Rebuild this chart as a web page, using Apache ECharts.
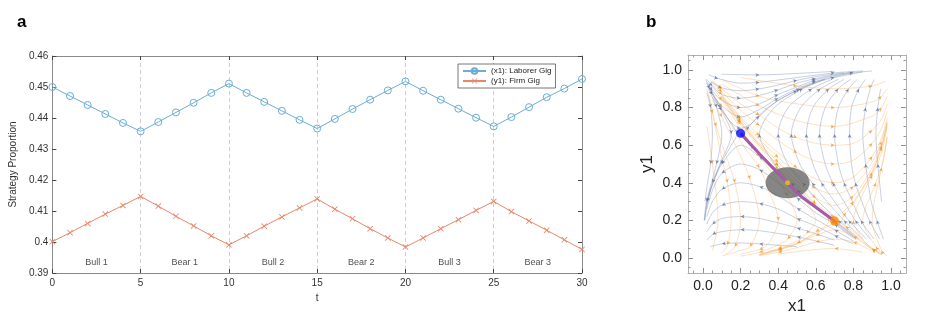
<!DOCTYPE html>
<html><head><meta charset="utf-8">
<script src="https://cdn.jsdelivr.net/npm/echarts@6/dist/echarts.min.js"></script>
<style>html,body{margin:0;padding:0;background:#fff}#c{width:926px;height:330px}</style>
</head><body><div id="c"></div>
<script>
// ---------- Panel a data ----------
const tVals = [0,1,2,3,4,5,6,7,8,9,10,11,12,13,14,15,16,17,18,19,20,21,22,23,24,25,26,27,28,29,30];
const laborerGig = [0.4500,0.4471,0.4442,0.4413,0.4384,0.4357,0.4387,0.4418,0.4449,0.4481,0.4511,0.4481,0.4452,0.4423,0.4394,0.4366,0.4397,0.4429,0.4459,0.4489,0.4518,0.4488,0.4459,0.4430,0.4401,0.4373,0.4403,0.4435,0.4467,0.4495,0.4526];
const firmGig = [0.4001,0.4030,0.4060,0.4090,0.4118,0.4147,0.4116,0.4083,0.4052,0.4020,0.3991,0.4020,0.4051,0.4081,0.4110,0.4139,0.4106,0.4075,0.4043,0.4013,0.3984,0.4013,0.4043,0.4072,0.4102,0.4131,0.4098,0.4068,0.4038,0.4007,0.3976];
const regimeNames = ['Bull 1','Bear 1','Bull 2','Bear 2','Bull 3','Bear 3'];
const regimeBounds = [0,5,10,15,20,25,30];
const seriesNames = ['(x1): Laborer Gig','(y1): Firm Gig'];

// ---------- Panel b data ----------
const phaseTicks = [0,0.2,0.4,0.6,0.8,1.0];
const phaseMinorTicks = [-0.05,0,0.05,0.1,0.15,0.2,0.25,0.3,0.35,0.4,0.45,0.5,0.55,0.6,0.65,0.7,0.75,0.8,0.85,0.9,0.95,1.0,1.05];
const blueSaddle = [0.2,0.663];
const orangeSaddle = [0.7,0.197];
const meanPoint = [0.45,0.40];
const saddlePath = [[0.2,0.663],[0.3,0.555],[0.383,0.469],[0.45,0.40],[0.5,0.345],[0.6,0.27],[0.7,0.197]];
const blueStreams = [
  [[0.05,0.855],[0.1,0.786],[0.15,0.72],[0.2,0.69],[0.25,0.71],[0.3,0.755],[0.4,0.84],[0.5,0.89],[0.6,0.935],[0.7,0.96],[0.85,0.99]],
  [[0.02,0.93],[0.05,0.87],[0.1,0.81],[0.2,0.75],[0.3,0.79],[0.4,0.85],[0.5,0.9],[0.6,0.94],[0.7,0.965],[0.8,0.985],[0.9,0.995]],
  [[0.03,0.93],[0.05,0.89],[0.1,0.838],[0.2,0.8],[0.3,0.82],[0.4,0.87],[0.5,0.91],[0.6,0.948],[0.7,0.97],[0.8,0.987]],
  [[0.02,0.95],[0.05,0.915],[0.1,0.87],[0.2,0.85],[0.3,0.865],[0.4,0.895],[0.5,0.93],[0.6,0.955],[0.7,0.975],[0.8,0.99]],
  [[0.04,0.94],[0.1,0.905],[0.2,0.89],[0.3,0.9],[0.4,0.92],[0.5,0.945],[0.6,0.965],[0.75,0.985]],
  [[0.03,0.975],[0.08,0.955],[0.2,0.93],[0.3,0.935],[0.5,0.96],[0.7,0.985],[0.85,0.995]],
  [[0.1,0.978],[0.3,0.974],[0.5,0.982],[0.7,0.993]],
  [[0.03,0.92],[0.094,0.8],[0.16,0.7],[0.18,0.66],[0.15,0.6],[0.094,0.5],[0.053,0.4],[0.024,0.3],[0.01,0.2]],
  [[0.015,0.95],[0.035,0.9],[0.088,0.8],[0.15,0.66],[0.09,0.5],[0.05,0.4],[0.022,0.3],[0.008,0.2]],
  [[0.028,0.9],[0.072,0.8],[0.1,0.66],[0.072,0.5],[0.045,0.4],[0.018,0.3],[0.006,0.2]],
  [[0.02,0.88],[0.04,0.8],[0.05,0.66],[0.04,0.5],[0.024,0.4],[0.01,0.3]],
  [[0.8,0.12],[0.7,0.2],[0.6,0.27],[0.5,0.36],[0.4,0.44],[0.3,0.54],[0.2,0.6],[0.1,0.5],[0.05,0.39],[0.02,0.29]],
  [[0.8,0.105],[0.7,0.18],[0.6,0.24],[0.5,0.32],[0.4,0.4],[0.3,0.47],[0.2,0.5],[0.1,0.45],[0.05,0.36],[0.02,0.26]],
  [[0.8,0.09],[0.7,0.15],[0.6,0.205],[0.5,0.265],[0.4,0.33],[0.3,0.38],[0.2,0.4],[0.1,0.365],[0.05,0.3],[0.02,0.22]],
  [[0.8,0.075],[0.7,0.12],[0.6,0.17],[0.5,0.21],[0.4,0.26],[0.3,0.29],[0.2,0.3],[0.1,0.28],[0.05,0.24],[0.02,0.18]],
  [[0.7,0.095],[0.5,0.16],[0.3,0.21],[0.2,0.22],[0.1,0.21],[0.05,0.18],[0.02,0.14]],
  [[0.7,0.067],[0.5,0.113],[0.3,0.145],[0.2,0.15],[0.1,0.14],[0.05,0.125],[0.02,0.095]],
  [[0.5,0.06],[0.3,0.075],[0.2,0.08],[0.1,0.075],[0.04,0.06]],
  [[0.815,0.1],[0.685,0.2],[0.56,0.3],[0.445,0.4],[0.343,0.5],[0.255,0.6],[0.22,0.66],[0.245,0.7],[0.344,0.8],[0.515,0.9],[0.645,0.95]],
  [[0.82,0.1],[0.695,0.2],[0.575,0.3],[0.47,0.4],[0.38,0.5],[0.3,0.66],[0.38,0.8],[0.53,0.9],[0.65,0.95]],
  [[0.83,0.1],[0.72,0.2],[0.615,0.3],[0.53,0.4],[0.45,0.5],[0.4,0.66],[0.453,0.8],[0.58,0.9],[0.685,0.95]],
  [[0.85,0.1],[0.75,0.2],[0.66,0.3],[0.58,0.4],[0.515,0.5],[0.47,0.66],[0.52,0.8],[0.625,0.9],[0.72,0.95]],
  [[0.87,0.1],[0.775,0.2],[0.7,0.3],[0.63,0.4],[0.585,0.5],[0.55,0.66],[0.585,0.8],[0.67,0.9],[0.75,0.95]],
  [[0.89,0.1],[0.81,0.2],[0.75,0.3],[0.69,0.4],[0.65,0.5],[0.62,0.66],[0.65,0.8],[0.72,0.9],[0.785,0.95]],
  [[0.91,0.1],[0.84,0.2],[0.795,0.3],[0.75,0.4],[0.72,0.5],[0.7,0.66],[0.72,0.8],[0.775,0.9],[0.82,0.95]],
  [[0.94,0.1],[0.885,0.2],[0.845,0.3],[0.81,0.4],[0.79,0.5],[0.78,0.66],[0.79,0.8],[0.83,0.9],[0.865,0.95]],
  [[0.96,0.1],[0.925,0.2],[0.895,0.3],[0.865,0.5],[0.85,0.66],[0.865,0.8],[0.89,0.9],[0.91,0.95]],
  [[0.95,0.3],[0.93,0.5],[0.92,0.66],[0.93,0.8],[0.945,0.9]]
];
const orangeStreams = [
  [[0.1,0.855],[0.2,0.72],[0.3,0.6],[0.4,0.49],[0.5,0.39],[0.6,0.29],[0.65,0.25],[0.7,0.22],[0.75,0.25],[0.8,0.3],[0.9,0.46],[0.95,0.59],[0.98,0.71]],
  [[0.1,0.86],[0.2,0.73],[0.3,0.61],[0.4,0.51],[0.5,0.41],[0.6,0.32],[0.7,0.28],[0.8,0.33],[0.9,0.48],[0.95,0.6],[0.98,0.72]],
  [[0.1,0.865],[0.2,0.74],[0.3,0.63],[0.4,0.535],[0.5,0.445],[0.6,0.37],[0.7,0.34],[0.8,0.38],[0.9,0.51],[0.95,0.62],[0.98,0.73]],
  [[0.05,0.93],[0.1,0.87],[0.2,0.75],[0.3,0.65],[0.4,0.56],[0.5,0.48],[0.6,0.42],[0.7,0.4],[0.8,0.43],[0.9,0.54],[0.95,0.64],[0.98,0.745]],
  [[0.05,0.94],[0.1,0.885],[0.2,0.785],[0.3,0.705],[0.4,0.625],[0.5,0.56],[0.6,0.515],[0.7,0.5],[0.8,0.52],[0.9,0.61],[0.95,0.69],[0.98,0.78]],
  [[0.05,0.945],[0.1,0.9],[0.2,0.82],[0.3,0.76],[0.4,0.69],[0.5,0.64],[0.6,0.61],[0.7,0.6],[0.8,0.61],[0.9,0.68],[0.95,0.74],[0.98,0.82]],
  [[0.1,0.925],[0.3,0.81],[0.5,0.73],[0.7,0.7],[0.9,0.755],[0.95,0.8],[0.98,0.86]],
  [[0.1,0.95],[0.3,0.86],[0.5,0.82],[0.7,0.8],[0.9,0.83],[0.95,0.86],[0.98,0.9]],
  [[0.2,0.96],[0.5,0.915],[0.7,0.9],[0.9,0.915],[0.97,0.94]],
  [[0.1,0.855],[0.2,0.72],[0.3,0.6],[0.4,0.49],[0.5,0.385],[0.6,0.28],[0.65,0.225],[0.67,0.2],[0.65,0.17],[0.6,0.14],[0.5,0.075],[0.4,0.045],[0.3,0.017]],
  [[0.1,0.85],[0.2,0.71],[0.3,0.59],[0.4,0.47],[0.5,0.35],[0.55,0.3],[0.6,0.2],[0.55,0.13],[0.5,0.09],[0.4,0.05],[0.3,0.02]],
  [[0.05,0.91],[0.1,0.84],[0.2,0.69],[0.3,0.54],[0.4,0.41],[0.45,0.33],[0.5,0.2],[0.45,0.1],[0.4,0.07],[0.3,0.03],[0.2,0.01]],
  [[0.05,0.875],[0.1,0.8],[0.2,0.62],[0.3,0.48],[0.35,0.36],[0.4,0.2],[0.35,0.08],[0.3,0.045],[0.2,0.02]],
  [[0.05,0.84],[0.1,0.75],[0.2,0.54],[0.25,0.42],[0.3,0.2],[0.25,0.06],[0.2,0.04],[0.1,0.01]],
  [[0.03,0.87],[0.07,0.7],[0.12,0.55],[0.17,0.4],[0.2,0.2],[0.17,0.06],[0.12,0.02]],
  [[0.02,0.9],[0.05,0.77],[0.1,0.53],[0.13,0.4],[0.15,0.2],[0.13,0.07],[0.1,0.025]],
  [[0.02,0.7],[0.05,0.5],[0.08,0.2],[0.05,0.04]],
  [[0.95,0.02],[0.9,0.05],[0.8,0.14],[0.76,0.17],[0.74,0.2],[0.76,0.24],[0.8,0.29],[0.9,0.455],[0.95,0.59],[0.98,0.715]],
  [[0.95,0.02],[0.9,0.05],[0.85,0.1],[0.8,0.2],[0.85,0.34],[0.9,0.44],[0.95,0.56],[0.98,0.7]],
  [[0.96,0.02],[0.92,0.06],[0.85,0.2],[0.92,0.4],[0.96,0.52],[0.98,0.65]],
  [[0.98,0.01],[0.95,0.04],[0.9,0.2],[0.95,0.48],[0.98,0.64]],
  [[0.95,0.02],[0.9,0.045],[0.8,0.125],[0.7,0.18],[0.6,0.13],[0.5,0.08],[0.4,0.045],[0.3,0.017]],
  [[0.9,0.045],[0.8,0.115],[0.7,0.15],[0.6,0.12],[0.5,0.075],[0.4,0.04],[0.3,0.015]],
  [[0.9,0.035],[0.8,0.085],[0.7,0.1],[0.6,0.085],[0.5,0.055],[0.4,0.03],[0.3,0.012]],
  [[0.85,0.03],[0.7,0.05],[0.55,0.04],[0.4,0.02]]
];

// ---------- styles ----------
const FONT = 'Liberation Sans, Arial, sans-serif';
const BLUE = '#6aaed6', ORANGE = '#e8876b';
const frameA = '#8a8a8a', frameB = '#b0b0b0';
const crossPath = 'path://M0,1L1,0L5,4L9,0L10,1L6,5L10,9L9,10L5,6L1,10L0,9L4,5Z';

function streamSeries(streams, lineColor, arrowColor) {
  const out = [];
  const arrows = [];
  streams.forEach(function (s) {
    out.push({type:'line', xAxisIndex:2, yAxisIndex:2, data:s, smooth:0.3, symbol:'none',
      lineStyle:{color:lineColor, width:0.7}, silent:true, z:2, animation:false});
    for (let i = 1; i < s.length - 1; i += 2) {
      const dx = s[i+1][0] - s[i-1][0], dy = s[i+1][1] - s[i-1][1];
      const ang = Math.atan2(dy, dx) * 180 / Math.PI;
      arrows.push({value:s[i], symbolRotate: ang - 90});
    }
  });
  out.push({type:'scatter', xAxisIndex:2, yAxisIndex:2, data:arrows, symbol:'arrow', symbolSize:[3,4],
    itemStyle:{color:arrowColor}, silent:true, z:3, animation:false});
  return out;
}

function axisBase(extra) {
  const a = Object.assign({type:'value', scale:false, splitLine:{show:false}}, extra);
  a.axisLine = Object.assign({onZero:false}, a.axisLine || {});
  return a;
}

const xAxes = [
  axisBase({gridIndex:0, position:'bottom', min:0, max:30, interval:5,
    name:'t', nameLocation:'middle', nameGap:17, nameTextStyle:{fontSize:10, color:'#333', fontFamily:FONT},
    axisLine:{lineStyle:{color:frameA, width:1}}, axisTick:{inside:true, length:4, lineStyle:{color:'#444'}},
    axisLabel:{fontSize:10, color:'#333', margin:5, fontFamily:FONT},
    splitLine:{show:true, lineStyle:{type:[4,3], color:'#cfcfcf', width:1}}}),
  axisBase({gridIndex:0, position:'top', min:0, max:30, interval:5,
    axisLine:{lineStyle:{color:frameA, width:1}}, axisTick:{inside:true, length:4, lineStyle:{color:'#444'}},
    axisLabel:{show:false}}),
  axisBase({gridIndex:1, position:'bottom', min:-0.08, max:1.08,
    name:'x1', nameLocation:'middle', nameGap:25, nameTextStyle:{fontSize:17, color:'#222', fontFamily:FONT},
    axisLine:{lineStyle:{color:frameB, width:1}},
    axisTick:{inside:true, length:5, customValues:phaseTicks, lineStyle:{color:'#888'}},
    axisLabel:{fontSize:14, color:'#222', margin:6, fontFamily:FONT, customValues:phaseTicks, formatter:function(v){return v.toFixed(1);}}}),
  axisBase({gridIndex:1, position:'bottom', min:-0.08, max:1.08,
    axisLine:{show:false}, axisTick:{inside:true, length:2.5, customValues:phaseMinorTicks, lineStyle:{color:'#999'}},
    axisLabel:{show:false}}),
  axisBase({gridIndex:1, position:'top', min:-0.08, max:1.08,
    axisLine:{lineStyle:{color:frameB, width:1}}, axisTick:{inside:true, length:5, customValues:phaseTicks, lineStyle:{color:'#888'}},
    axisLabel:{show:false}}),
  axisBase({gridIndex:1, position:'top', min:-0.08, max:1.08,
    axisLine:{show:false}, axisTick:{inside:true, length:2.5, customValues:phaseMinorTicks, lineStyle:{color:'#999'}},
    axisLabel:{show:false}})
];
const yAxes = [
  axisBase({gridIndex:0, position:'left', min:0.39, max:0.46, interval:0.01,
    name:'Strategy Proportion', nameLocation:'middle', nameGap:27, nameTextStyle:{fontSize:10, color:'#333', fontFamily:FONT},
    axisLine:{lineStyle:{color:frameA, width:1}}, axisTick:{inside:true, length:4, lineStyle:{color:'#444'}},
    axisLabel:{fontSize:10, color:'#333', margin:4, fontFamily:FONT}}),
  axisBase({gridIndex:0, position:'right', min:0.39, max:0.46, interval:0.01,
    axisLine:{lineStyle:{color:frameA, width:1}}, axisTick:{inside:true, length:4, lineStyle:{color:'#444'}},
    axisLabel:{show:false}}),
  axisBase({gridIndex:1, position:'left', min:-0.08, max:1.08,
    name:'y1', nameLocation:'middle', nameGap:32, nameTextStyle:{fontSize:17, color:'#222', fontFamily:FONT},
    axisLine:{lineStyle:{color:frameB, width:1}},
    axisTick:{inside:true, length:5, customValues:phaseTicks, lineStyle:{color:'#888'}},
    axisLabel:{fontSize:14, color:'#222', margin:6, fontFamily:FONT, customValues:phaseTicks, formatter:function(v){return v.toFixed(1);}}}),
  axisBase({gridIndex:1, position:'left', min:-0.08, max:1.08,
    axisLine:{show:false}, axisTick:{inside:true, length:2.5, customValues:phaseMinorTicks, lineStyle:{color:'#999'}},
    axisLabel:{show:false}}),
  axisBase({gridIndex:1, position:'right', min:-0.08, max:1.08,
    axisLine:{lineStyle:{color:frameB, width:1}}, axisTick:{inside:true, length:5, customValues:phaseTicks, lineStyle:{color:'#888'}},
    axisLabel:{show:false}}),
  axisBase({gridIndex:1, position:'right', min:-0.08, max:1.08,
    axisLine:{show:false}, axisTick:{inside:true, length:2.5, customValues:phaseMinorTicks, lineStyle:{color:'#999'}},
    axisLabel:{show:false}})
];

const regimeLabelData = regimeNames.map(function (n, i) {
  return {name:n, value:[(regimeBounds[i] + regimeBounds[i+1]) / 2, 0.3933]};
});

const series = [
  {name:seriesNames[0], type:'line', xAxisIndex:0, yAxisIndex:0, data:tVals.map(function(t,i){return [t, laborerGig[i]];}),
   symbol:'circle', symbolSize:7, lineStyle:{color:BLUE, width:1},
   itemStyle:{color:'rgba(255,255,255,0)', borderColor:BLUE, borderWidth:1}, animation:false, z:3},
  {name:seriesNames[1], type:'line', xAxisIndex:0, yAxisIndex:0, data:tVals.map(function(t,i){return [t, firmGig[i]];}),
   symbol:crossPath, symbolSize:6, lineStyle:{color:ORANGE, width:1},
   itemStyle:{color:ORANGE}, animation:false, z:3},
  {type:'scatter', xAxisIndex:0, yAxisIndex:0, data:regimeLabelData, symbolSize:0, silent:true, animation:false,
   label:{show:true, position:'inside', formatter:'{b}', fontSize:9, color:'#222', fontFamily:FONT}}
].concat(
  streamSeries(blueStreams, 'rgba(100,120,170,0.5)', 'rgba(75,95,150,0.85)'),
  streamSeries(orangeStreams, 'rgba(245,170,80,0.5)', 'rgba(238,140,25,0.85)'),
  [
    {type:'scatter', xAxisIndex:2, yAxisIndex:2, data:[meanPoint], symbol:'circle', symbolSize:[44,31],
     itemStyle:{color:'rgba(88,88,88,0.9)'}, silent:true, z:5, animation:false},
    {type:'line', xAxisIndex:2, yAxisIndex:2, data:saddlePath, smooth:0.4, symbol:'none',
     lineStyle:{color:'#a65aa8', width:3}, silent:true, z:6, animation:false},
    {type:'scatter', xAxisIndex:2, yAxisIndex:2, data:[meanPoint], symbol:'circle', symbolSize:5,
     itemStyle:{color:'#f5c400'}, silent:true, z:7, animation:false},
    {type:'scatter', xAxisIndex:2, yAxisIndex:2, data:[blueSaddle], symbol:'circle', symbolSize:9,
     itemStyle:{color:'#0a0aff'}, silent:true, z:7, animation:false},
    {type:'scatter', xAxisIndex:2, yAxisIndex:2, data:[orangeSaddle], symbol:'circle', symbolSize:9,
     itemStyle:{color:'#ff8a00'}, silent:true, z:7, animation:false}
  ]
);

const chart = echarts.init(document.getElementById('c'), null, {renderer:'canvas'});
chart.setOption({
  animation:false,
  backgroundColor:'#fff',
  textStyle:{fontFamily:FONT},
  grid:[
    {left:49, top:56, width:533, height:217},
    {left:688, top:55, width:218, height:218}
  ],
  legend:{data:seriesNames, left:458, top:64, orient:'vertical', itemGap:2, itemWidth:23, itemHeight:7,
    padding:[3,4,3,4], borderColor:'#555', borderWidth:0.8, backgroundColor:'#fff',
    textStyle:{fontSize:8, color:'#222', fontFamily:FONT}, selectedMode:false},
  xAxis:xAxes,
  yAxis:yAxes,
  series:series,
  graphic:[
    {type:'text', left:17, top:14, style:{text:'a', font:'bold 17px Liberation Sans, Arial', fill:'#000'}},
    {type:'text', left:646, top:14, style:{text:'b', font:'bold 17px Liberation Sans, Arial', fill:'#000'}}
  ]
});
</script></body></html>
